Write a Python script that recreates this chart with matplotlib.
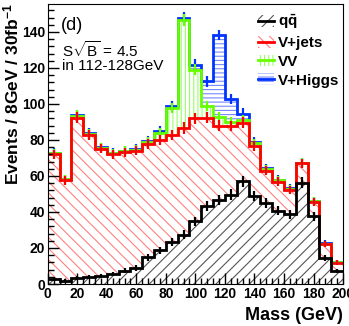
import numpy as np
import matplotlib
matplotlib.use('Agg')
import matplotlib.pyplot as plt
from matplotlib.patches import Patch
from matplotlib.lines import Line2D

plt.rcParams['font.family'] = ['Liberation Sans', 'DejaVu Sans']
plt.rcParams['mathtext.fontset'] = 'custom'
plt.rcParams['mathtext.rm'] = 'Liberation Sans'
plt.rcParams['mathtext.it'] = 'Liberation Sans:italic'
plt.rcParams['mathtext.bf'] = 'Liberation Sans:bold'
plt.rcParams['hatch.linewidth'] = 0.8

# 8 GeV bins from 0 to 200
edges = np.arange(0, 201, 8)

# stacked components (events per bin)
qq = [2.9, 1.9, 3.4, 3.9, 4.6, 5.4, 7.5, 9.0, 14.8, 18.7, 23.3, 27.4, 34.8,
      43.1, 46.5, 49.6, 57.0, 48.8, 45.1, 40.8, 38.7, 56.2, 37.7, 14.6, 7.1]
vjets = [69.1, 55.6, 88.9, 78.9, 70.6, 66.7, 65.7, 65.0, 62.8, 61.3, 59.5, 59.3, 57.2,
         49.2, 41.4, 38.2, 32.6, 28.0, 17.9, 16.1, 13.6, 10.8, 8.1, 7.6, 4.8]
vv = [0.6, 0.7, 1.1, 0.6, 0.5, 0.5, 0.6, 0.7, 1.4, 4.0, 15.1, 59.8, 27.0,
      6.6, 4.6, 2.0, 1.4, 1.3, 0.7, 0.6, 0.5, 0.2, 0.2, 0.2, 0.1]
vh = [0.2, 0.2, 0.3, 0.2, 0.2, 0.2, 0.3, 0.5, 0.5, 1.2, 1.0, 1.5, 2.7,
      13.7, 45.8, 13.0, 3.5, 0.9, 0.5, 0.5, 0.3, 0.2, 0.2, 0.2, 0.1]

# statistical errors drawn as small crosses
err_qq = [1.0, 0.8, 1.0, 1.0, 1.1, 1.2, 1.3, 1.5, 1.8, 2.0, 2.2, 2.4, 2.6,
          2.8, 2.8, 2.9, 3.0, 2.8, 2.7, 2.6, 2.5, 3.0, 2.5, 1.6, 1.1]
err_tot = [2.5, 2.3, 3.0, 2.8, 2.6, 2.5, 2.6, 2.6, 2.7, 2.8, 2.8, 3.2, 3.0,
           3.0, 3.0, 2.9, 3.0, 2.7, 2.5, 2.4, 2.3, 2.6, 2.2, 1.6, 1.2]

labels = [r'$\mathbf{q\bar{q}}$', 'V+jets', 'VV', 'V+Higgs']
line_colors = ['black', '#ff0000', '#66ff00', '#0033ff']
hatch_colors = ['#555555', '#ff8080', '#99ff66', '#7788ff']
hatches = ['///', '\\\\\\', '||||', '----']

components = [np.array(qq), np.array(vjets), np.array(vv), np.array(vh)]
tops = np.cumsum(components, axis=0)
bottoms = np.vstack([np.zeros(len(qq)), tops[:-1]])
centers = 0.5 * (edges[:-1] + edges[1:])

fig = plt.figure(figsize=(3.49, 3.26), dpi=100)
ax = fig.add_axes([0.1367, 0.1288, 0.8463, 0.8589])

for i in range(4):
    ax.stairs(tops[i], edges, baseline=bottoms[i], fill=True, facecolor='none',
              edgecolor=hatch_colors[i], hatch=hatches[i], linewidth=0)

# outlines, drawn from the top of the stack down
for i in [3, 2, 1, 0]:
    ax.stairs(tops[i], edges, baseline=None, color=line_colors[i], linewidth=2)
    err = err_qq if i == 0 else err_tot
    ax.errorbar(centers, tops[i], yerr=err, fmt='none', ecolor=line_colors[i],
                elinewidth=1.6, capsize=0)

ax.set_xlim(0, 200)
ax.set_ylim(0, 155.5)
ax.set_xticks(np.arange(0, 201, 20))
ax.set_xticklabels([str(v) for v in range(0, 201, 20)])
ax.set_xticks(np.arange(0, 201, 4), minor=True)
ax.set_yticks(np.arange(0, 141, 20))
ax.set_yticks(np.arange(0, 156, 4), minor=True)
ax.tick_params(which='both', direction='in', top=False, right=False)
ax.tick_params(which='major', length=8, width=1, labelsize=10, pad=2)
ax.tick_params(which='minor', length=4, width=1)
for lab in ax.get_xticklabels() + ax.get_yticklabels():
    lab.set_fontweight('bold')

fig.text(0.983, 0.006, 'Mass (GeV)', ha='right', va='bottom',
         fontsize=13, fontweight='bold')
fig.text(0.005, 0.99, r'Events / 8GeV / 30fb$^{\mathbf{-1}}$', rotation=90,
         ha='left', va='top', fontsize=12.5, fontweight='bold')

ax.text(0.045, 0.955, '(d)', transform=ax.transAxes, fontsize=13, va='top')
ax.text(0.048, 0.87, r'S$\sqrt{\mathrm{B}}$ = 4.5', transform=ax.transAxes,
        fontsize=11, va='top')
ax.text(0.048, 0.805, 'in 112-128GeV', transform=ax.transAxes, fontsize=11, va='top')

handles = [(Patch(facecolor='none', edgecolor=hatch_colors[i], hatch=hatches[i], linewidth=0),
            Line2D([], [], color=line_colors[i], linewidth=2)) for i in range(4)]
leg = ax.legend(handles, labels, loc='upper left', bbox_to_anchor=(0.685, 0.995),
                frameon=False, borderpad=0, handlelength=1.1, handleheight=0.8,
                handletextpad=0.25, labelspacing=0.3,
                prop={'weight': 'bold', 'size': 11})

fig.savefig('out.png', dpi=100)
